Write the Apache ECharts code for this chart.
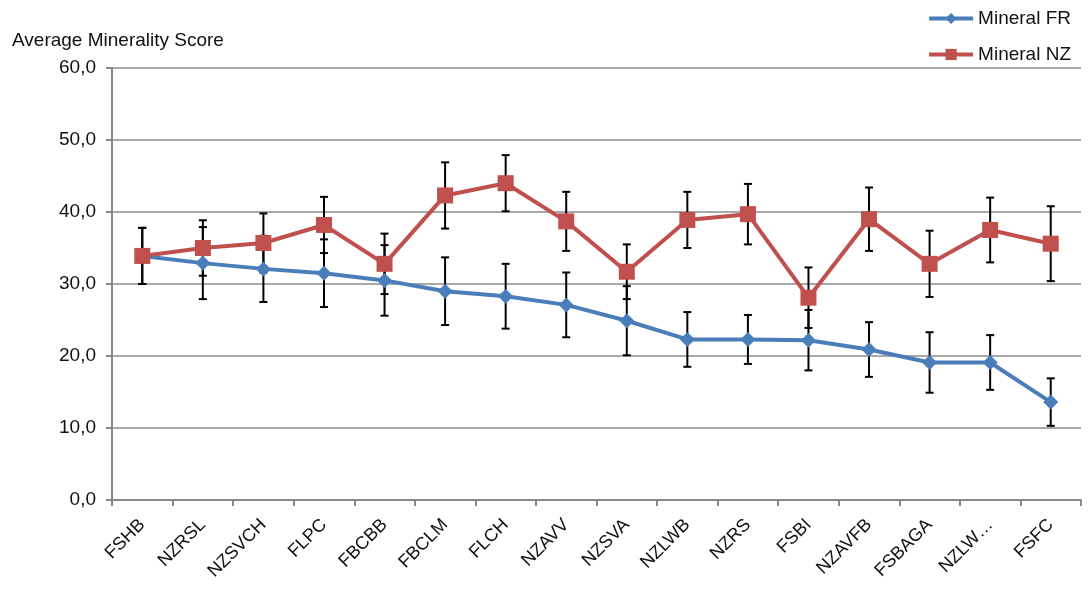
<html>
<head>
    <meta http-equiv="Content-Type" content="text/html; charset=utf-8" />
</head>
<script type="text/javascript" src="https://cdn.jsdelivr.net/npm/echarts@6/dist/echarts.min.js"></script>

<body style="margin:0">
<div id="main" style="width: 1092px;height:591px;"></div>
</body>

<script type="text/javascript">
    // categories and values
    var categories = ['FSHB','NZRSL','NZSVCH','FLPC','FBCBB','FBCLM','FLCH','NZAVV','NZSVA','NZLWB','NZRS','FSBI','NZAVFB','FSBAGA','NZLW…','FSFC'];
    var frMean = [33.9, 32.9, 32.1, 31.5, 30.5, 29.0, 28.3, 27.1, 24.9, 22.3, 22.3, 22.2, 20.9, 19.1, 19.1, 13.6];
    var frErr  = [3.9, 5.0, 4.6, 4.7, 4.9, 4.7, 4.5, 4.5, 4.8, 3.8, 3.4, 4.2, 3.8, 4.2, 3.8, 3.3];
    var nzMean = [33.9, 35.0, 35.7, 38.2, 32.8, 42.3, 44.0, 38.7, 31.7, 38.9, 39.7, 28.1, 39.0, 32.8, 37.5, 35.6];
    var nzErr  = [3.9, 3.85, 4.1, 3.9, 4.2, 4.6, 3.9, 4.1, 3.8, 3.9, 4.2, 4.2, 4.4, 4.6, 4.5, 5.2];
    var yTicks = [0, 10, 20, 30, 40, 50, 60];

    var font = 'Liberation Sans, Arial, sans-serif';

    // build [index, low, high] for the error bar series
    function errData(mean, err) {
        var out = [];
        for (var i = 0; i < mean.length; i++) {
            out.push([i, mean[i] - err[i], mean[i] + err[i]]);
        }
        return out;
    }

    function renderErr(params, api) {
        var x = api.value(0);
        var lo = api.coord([x, api.value(1)]);
        var hi = api.coord([x, api.value(2)]);
        var w = 4;
        var st = {stroke: '#000', lineWidth: 2};
        return {
            type: 'group',
            children: [
                {type: 'line', shape: {x1: lo[0], y1: lo[1], x2: hi[0], y2: hi[1]}, style: st},
                {type: 'line', shape: {x1: lo[0] - w, y1: lo[1], x2: lo[0] + w, y2: lo[1]}, style: st},
                {type: 'line', shape: {x1: hi[0] - w, y1: hi[1], x2: hi[0] + w, y2: hi[1]}, style: st}
            ]
        };
    }

    var myChart = echarts.init(document.getElementById('main'));

    var option = {
        animation: false,
        backgroundColor: '#fff',
        title: {
            text: 'Average Minerality Score',
            left: 7,
            top: 26,
            textStyle: {fontFamily: font, fontSize: 19, fontWeight: 'normal', color: '#111'}
        },
        legend: {
            orient: 'vertical',
            right: 16,
            top: 4,
            itemWidth: 44,
            itemHeight: 14,
            itemGap: 17,
            data: ['Mineral FR', 'Mineral NZ'],
            lineStyle: {width: 4},
            textStyle: {fontFamily: font, fontSize: 19, color: '#111'}
        },
        grid: {left: 112, right: 11, top: 68, bottom: 91, containLabel: false},
        xAxis: {
            type: 'category',
            data: categories,
            boundaryGap: true,
            axisLine: {lineStyle: {color: '#888', width: 2}},
            axisTick: {show: true, length: 6, lineStyle: {color: '#888', width: 2}},
            axisLabel: {rotate: 45, interval: 0, margin: 22, fontFamily: font, fontSize: 18, color: '#111'}
        },
        yAxis: {
            type: 'value',
            min: yTicks[0],
            max: yTicks[yTicks.length - 1],
            interval: 10,
            axisLine: {show: true, lineStyle: {color: '#888', width: 2}},
            axisTick: {show: true, length: 6, lineStyle: {color: '#888', width: 2}},
            splitLine: {lineStyle: {color: '#8c8c8c', width: 1.5}},
            axisLabel: {
                margin: 16,
                fontFamily: font, fontSize: 19, color: '#111',
                formatter: function (v) { return v.toFixed(1).replace('.', ','); }
            }
        },
        series: [
            {
                name: 'FR err',
                type: 'custom',
                renderItem: renderErr,
                data: errData(frMean, frErr),
                encode: {x: 0, y: [1, 2]},
                z: 1
            },
            {
                name: 'NZ err',
                type: 'custom',
                renderItem: renderErr,
                data: errData(nzMean, nzErr),
                encode: {x: 0, y: [1, 2]},
                z: 1
            },
            {
                name: 'Mineral FR',
                type: 'line',
                data: frMean,
                symbol: 'diamond',
                symbolSize: 15,
                color: '#4a7ebb',
                lineStyle: {width: 4, color: '#4a7ebb'},
                itemStyle: {color: '#4a7ebb'},
                z: 3
            },
            {
                name: 'Mineral NZ',
                type: 'line',
                data: nzMean,
                symbol: 'rect',
                symbolSize: 16,
                color: '#c0504d',
                lineStyle: {width: 4, color: '#c0504d'},
                itemStyle: {color: '#c0504d'},
                z: 4
            }
        ]
    };

    myChart.setOption(option);
</script>
</html>
